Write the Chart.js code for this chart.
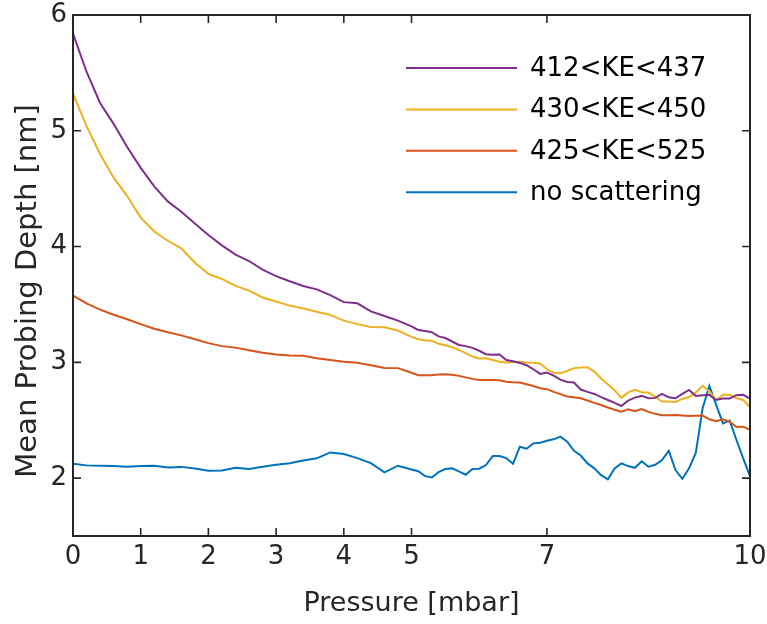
<!DOCTYPE html>
<html>
<head>
<meta charset="utf-8">
<script src="https://cdn.jsdelivr.net/npm/chart.js@4.4.1/dist/chart.umd.min.js"></script>
<style>
  html, body { margin: 0; padding: 0; background: #fff; }
  #wrap { width: 767px; height: 624px; }
</style>
</head>
<body>
<div id="wrap"><canvas id="grafico"></canvas></div>
<script>
// Pressure [mbar]
const pressure = [
  0, 0.2, 0.4, 0.6, 0.8, 1.0, 1.2, 1.4, 1.6, 1.8, 2.0, 2.2, 2.4, 2.6, 2.8, 3.0, 3.2, 3.4, 3.6, 3.8,
  4.0, 4.2, 4.4, 4.6, 4.8, 5.0,
  5.1, 5.2, 5.3, 5.4, 5.5, 5.6, 5.7, 5.8, 5.9, 6.0, 6.1, 6.2, 6.3, 6.4, 6.5, 6.6, 6.7, 6.8, 6.9, 7.0,
  7.1, 7.2, 7.3, 7.4, 7.5, 7.6, 7.7, 7.8, 7.9, 8.0, 8.1, 8.2, 8.3, 8.4, 8.5, 8.6, 8.7, 8.8, 8.9, 9.0,
  9.1, 9.2, 9.3, 9.4, 9.5, 9.6, 9.7, 9.8, 9.9, 10.0
];

// Mean probing depth [nm]
const ke412_437 = [
  5.84, 5.51, 5.24, 5.06, 4.86, 4.68, 4.52, 4.39, 4.30, 4.20, 4.10, 4.01, 3.93, 3.875, 3.80, 3.745, 3.70, 3.66, 3.63, 3.58,
  3.52, 3.51, 3.44, 3.40, 3.36, 3.31,
  3.28, 3.27, 3.26, 3.224, 3.21, 3.18, 3.15, 3.14, 3.125, 3.10, 3.07, 3.065, 3.068, 3.02, 3.01, 2.995, 2.975, 2.94, 2.90, 2.912,
  2.885, 2.85, 2.83, 2.826, 2.765, 2.745, 2.727, 2.70, 2.675, 2.65, 2.623, 2.67, 2.695, 2.71, 2.69, 2.693, 2.727, 2.698, 2.69, 2.727,
  2.762, 2.71, 2.715, 2.719, 2.675, 2.687, 2.687, 2.716, 2.719, 2.687
];

const ke430_450 = [
  5.32, 5.04, 4.80, 4.595, 4.436, 4.25, 4.13, 4.05, 3.985, 3.86, 3.764, 3.72, 3.66, 3.62, 3.56, 3.525, 3.49, 3.465, 3.437, 3.41,
  3.36, 3.33, 3.305, 3.303, 3.275, 3.22,
  3.20, 3.19, 3.186, 3.16, 3.147, 3.13, 3.107, 3.08, 3.05, 3.033, 3.036, 3.02, 3.005, 2.998, 3.003, 3.005, 2.998, 2.996, 2.99, 2.941,
  2.91, 2.905, 2.925, 2.95, 2.955, 2.958, 2.92, 2.86, 2.81, 2.76, 2.693, 2.74, 2.762, 2.742, 2.739, 2.704, 2.661, 2.661, 2.658, 2.684,
  2.70, 2.74, 2.797, 2.75, 2.675, 2.719, 2.719, 2.69, 2.675, 2.612
];

const ke425_525 = [
  3.576, 3.51, 3.455, 3.411, 3.372, 3.33, 3.29, 3.26, 3.233, 3.20, 3.166, 3.14, 3.127, 3.105, 3.083, 3.068, 3.06, 3.056, 3.036, 3.02,
  3.005, 2.996, 2.975, 2.952, 2.95, 2.91,
  2.889, 2.889, 2.889, 2.894, 2.898, 2.892, 2.883, 2.87, 2.857, 2.847, 2.847, 2.848, 2.845, 2.832, 2.828, 2.826, 2.81, 2.795, 2.776, 2.768,
  2.745, 2.725, 2.704, 2.699, 2.69, 2.67, 2.65, 2.632, 2.61, 2.59, 2.574, 2.595, 2.577, 2.597, 2.572, 2.555, 2.543, 2.544, 2.545, 2.541,
  2.537, 2.539, 2.54, 2.508, 2.491, 2.508, 2.487, 2.442, 2.444, 2.416
];

const noScattering = [
  2.124, 2.11, 2.106, 2.104, 2.098, 2.104, 2.106, 2.092, 2.097, 2.083, 2.063, 2.066, 2.089, 2.079, 2.098, 2.115, 2.128, 2.153, 2.171, 2.222,
  2.208, 2.173, 2.13, 2.049, 2.107, 2.075,
  2.06, 2.017, 2.006, 2.052, 2.078, 2.084, 2.058, 2.029, 2.078, 2.081, 2.113, 2.19, 2.19, 2.173, 2.124, 2.271, 2.254, 2.30, 2.306, 2.323,
  2.335, 2.358, 2.315, 2.236, 2.195, 2.127, 2.084, 2.026, 1.989, 2.084, 2.127, 2.104, 2.089, 2.145, 2.098, 2.115, 2.156, 2.236, 2.069, 1.994,
  2.084, 2.219, 2.603, 2.797, 2.632, 2.473, 2.496, 2.329, 2.171, 2.017
];

const xTicks = [0, 1, 2, 3, 4, 5, 7, 10];
const yTicks = [2, 3, 4, 5, 6];

const series = [
  { label: '412<KE<437', values: ke412_437, color: '#7E2F8E' },
  { label: '430<KE<450', values: ke430_450, color: '#EDB120' },
  { label: '425<KE<525', values: ke425_525, color: '#D95319' },
  { label: 'no scattering', values: noScattering, color: '#0072BD' }
];

const yTitle = 'Mean Probing Depth [nm]';

const FONT = '"DejaVu Sans", "Liberation Sans", Arial, sans-serif';
const AXIS_COLOR = '#262626';

// marco con marcas hacia dentro en los cuatro lados (estilo MATLAB)
const marcoPlugin = {
  id: 'marco',
  afterDatasetsDraw(chart) {
    const { ctx, chartArea: a, scales: { x, y } } = chart;
    const len = 8;
    ctx.save();
    ctx.strokeStyle = AXIS_COLOR;
    ctx.lineWidth = 1.6;
    ctx.beginPath();
    xTicks.forEach(v => {
      const px = x.getPixelForValue(v);
      ctx.moveTo(px, a.bottom); ctx.lineTo(px, a.bottom - len);
      ctx.moveTo(px, a.top); ctx.lineTo(px, a.top + len);
    });
    yTicks.forEach(v => {
      const py = y.getPixelForValue(v);
      ctx.moveTo(a.left, py); ctx.lineTo(a.left + len, py);
      ctx.moveTo(a.right, py); ctx.lineTo(a.right - len, py);
    });
    ctx.stroke();
    ctx.lineWidth = 2;
    ctx.strokeRect(a.left, a.top, a.right - a.left, a.bottom - a.top);
    ctx.restore();
  }
};

// título del eje Y, girado, un poco por debajo del centro como en el original
const tituloYPlugin = {
  id: 'tituloY',
  afterDraw(chart) {
    const { ctx } = chart;
    ctx.save();
    ctx.translate(28, 291);
    ctx.rotate(-Math.PI / 2);
    ctx.font = '29px ' + FONT;
    ctx.fillStyle = AXIS_COLOR;
    ctx.textAlign = 'center';
    ctx.textBaseline = 'middle';
    ctx.fillText(yTitle, 0, 0);
    ctx.restore();
  }
};

// leyenda dentro del área del gráfico, arriba a la derecha
const leyendaPlugin = {
  id: 'leyenda',
  afterDraw(chart) {
    const { ctx } = chart;
    const x0 = 406, x1 = 517, xt = 530, y0 = 68, dy = 41.4;
    ctx.save();
    ctx.font = '26px ' + FONT;
    ctx.textBaseline = 'middle';
    chart.data.datasets.forEach((ds, i) => {
      const yy = y0 + i * dy;
      ctx.strokeStyle = ds.borderColor;
      ctx.lineWidth = 2;
      ctx.beginPath();
      ctx.moveTo(x0, yy); ctx.lineTo(x1, yy);
      ctx.stroke();
      ctx.fillStyle = '#000';
      ctx.fillText(ds.label, xt, yy + 1);
    });
    ctx.restore();
  }
};

const ctx = document.getElementById('grafico').getContext('2d');

new Chart(ctx, {
  type: 'line',
  data: {
    datasets: series.map(s => ({
      label: s.label,
      data: pressure.map((p, i) => ({ x: p, y: s.values[i] })),
      borderColor: s.color,
      backgroundColor: s.color,
      borderWidth: 2,
      pointRadius: 0,
      tension: 0,
      fill: false
    }))
  },
  options: {
    responsive: true,
    maintainAspectRatio: false,
    animation: false,
    layout: { padding: { top: 15, right: 17, left: 0, bottom: 0 } },
    plugins: {
      legend: { display: false },
      tooltip: { enabled: false }
    },
    scales: {
      x: {
        type: 'linear',
        min: 0,
        max: 10,
        afterBuildTicks: scale => { scale.ticks = xTicks.map(v => ({ value: v })); },
        afterFit: scale => { scale.height = 88; scale.paddingLeft = 0; scale.paddingRight = 0; },
        grid: { display: false, drawTicks: false },
        border: { display: false },
        ticks: {
          padding: 6,
          maxRotation: 0,
          autoSkip: false,
          color: AXIS_COLOR,
          font: { family: FONT, size: 26 }
        },
        title: {
          display: true,
          text: 'Pressure [mbar]',
          color: AXIS_COLOR,
          font: { family: FONT, size: 27 },
          padding: { top: 0, bottom: 4 }
        }
      },
      y: {
        type: 'linear',
        min: 1.5,
        max: 6,
        afterBuildTicks: scale => { scale.ticks = yTicks.map(v => ({ value: v })); },
        afterFit: scale => { scale.width = 73; scale.paddingTop = 0; scale.paddingBottom = 0; },
        grid: { display: false, drawTicks: false },
        border: { display: false },
        ticks: {
          padding: 6,
          color: AXIS_COLOR,
          font: { family: FONT, size: 26 }
        }
      }
    }
  },
  plugins: [marcoPlugin, tituloYPlugin, leyendaPlugin]
});
</script>
</body>
</html>
